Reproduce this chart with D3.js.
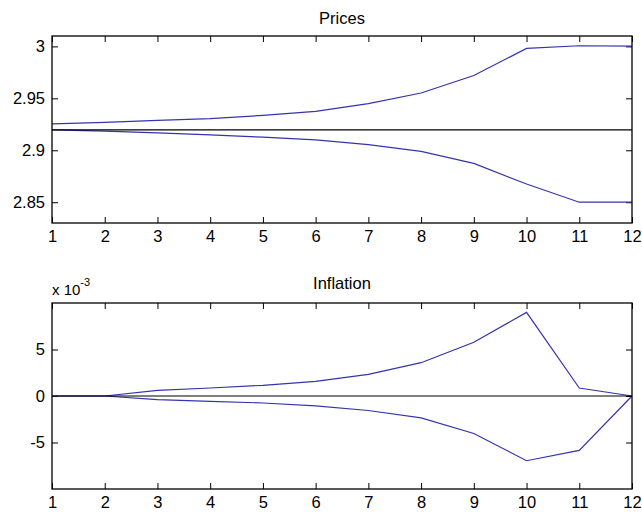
<!DOCTYPE html>
<html><head><meta charset="utf-8">
<script src="https://cdn.jsdelivr.net/npm/d3@7"></script>
<style>
html,body{margin:0;padding:0;background:#fff;}
svg text{font-family:Arial,"Liberation Sans",sans-serif;fill:#000;}
</style></head>
<body><svg id="c" width="642" height="514"></svg>
<script>
const periods = [1,2,3,4,5,6,7,8,9,10,11,12];
const pricesUpper = [2.9255,2.9268,2.9287,2.9304,2.9336,2.9374,2.9449,2.9551,2.9720,2.9980,3.0006,3.0003];
const pricesLower = [2.9197,2.9184,2.9168,2.9149,2.9126,2.9101,2.9055,2.8990,2.8874,2.8675,2.8500,2.8500];
const pricesBase = 2.9197;
const inflUpper = [0,0,0.61,0.86,1.15,1.57,2.32,3.58,5.78,8.99,0.86,0];   // x 10^-3
const inflLower = [0,0,-0.39,-0.57,-0.75,-1.07,-1.56,-2.35,-4.03,-6.96,-5.85,0]; // x 10^-3
const inflBase = 0;
const xTicks = [1,2,3,4,5,6,7,8,9,10,11,12];
const priceTicks = [2.85,2.9,2.95,3];
const priceTickLabels = ["2.85","2.9","2.95","3"];
const inflTicks = [-5,0,5];
const inflTickLabels = ["-5","0","5"];

const svg = d3.select("#c");
const blue = "#3434ac";
const FS = "16.5px";

function panel(cfg){
  const {left,right,top,bottom,yDomain,series,base,yTicks,yLabels,title,titleOff} = cfg;
  const x = d3.scaleLinear().domain([1,12]).range([left,right]);
  const y = d3.scaleLinear().domain(yDomain).range([bottom,top]);
  const g = svg.append("g");
  const tl = 6;
  g.append("g").attr("transform",`translate(0,${bottom})`)
    .call(d3.axisBottom(x).tickValues(xTicks).tickSize(-tl).tickPadding(7).tickFormat(d3.format("d")))
    .call(a=>{a.select(".domain").remove();a.selectAll("text").style("font-size",FS);});
  g.append("g").attr("transform",`translate(0,${top})`)
    .call(d3.axisTop(x).tickValues(xTicks).tickSize(-tl).tickFormat(""))
    .call(a=>a.select(".domain").remove());
  g.append("g").attr("transform",`translate(${left},0)`)
    .call(d3.axisLeft(y).tickValues(yTicks).tickSize(-tl).tickPadding(7).tickFormat((d,i)=>yLabels[i]))
    .call(a=>{a.select(".domain").remove();a.selectAll("text").style("font-size",FS);});
  g.append("g").attr("transform",`translate(${right},0)`)
    .call(d3.axisRight(y).tickValues(yTicks).tickSize(-tl).tickFormat(""))
    .call(a=>a.select(".domain").remove());
  const line = d3.line().x((d,i)=>x(periods[i])).y(d=>y(d));
  series.forEach(s=>{
    g.append("path").datum(s).attr("d",line).attr("fill","none").attr("stroke",blue).attr("stroke-width",1.2);
  });
  g.append("line").attr("x1",x(1)).attr("x2",x(12)).attr("y1",y(base)).attr("y2",y(base))
    .attr("stroke","#000").attr("stroke-width",1.2);
  g.append("rect").attr("x",left).attr("y",top).attr("width",right-left).attr("height",bottom-top)
    .attr("fill","none").attr("stroke","#000").attr("stroke-width",1.3);
  g.append("text").attr("x",(left+right)/2).attr("y",top-titleOff).attr("text-anchor","middle")
    .style("font-size",FS).text(title);
  return {x,y};
}

panel({left:52,right:632,top:36,bottom:223,yDomain:[2.83,3.01],titleOff:12,
  series:[pricesUpper,pricesLower],base:pricesBase,yTicks:priceTicks,yLabels:priceTickLabels,title:"Prices"});
const sc = inflUpper.map(v=>v/1000), sl = inflLower.map(v=>v/1000);
panel({left:52,right:632,top:303,bottom:489,yDomain:[-0.01,0.01],titleOff:14,
  series:[sc,sl],base:inflBase,yTicks:inflTicks.map(v=>v/1000),yLabels:inflTickLabels,title:"Inflation"});

const ex = svg.append("text").attr("x",52).attr("y",295).style("font-size","15px");
ex.append("tspan").text("x 10");
ex.append("tspan").attr("dy",-9).style("font-size","11px").text("-3");
</script></body></html>
